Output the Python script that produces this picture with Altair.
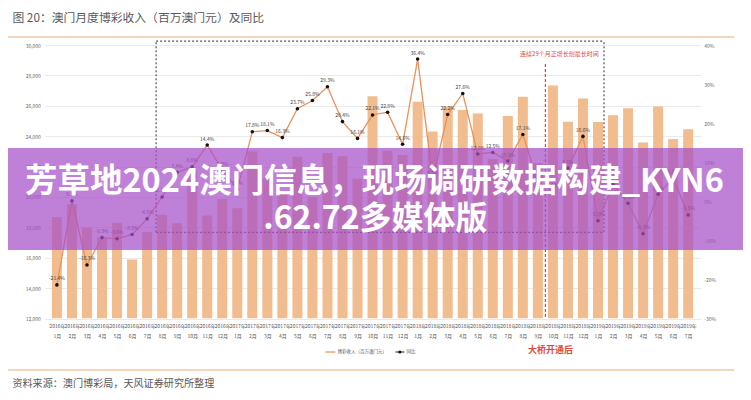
import altair as alt
import pandas as pd

# ---------------- data ----------------
years = ["2016年"] * 12 + ["2017年"] * 12 + ["2018年"] * 12 + ["2019年"] * 7
months = ["1月", "2月", "3月", "4月", "5月", "6月", "7月", "8月", "9月", "10月", "11月", "12月",
          "1月", "2月", "3月", "4月", "5月", "6月", "7月", "8月", "9月", "10月", "11月", "12月",
          "1月", "2月", "3月", "4月", "5月", "6月", "7月", "8月", "9月", "10月", "11月", "12月",
          "1月", "2月", "3月", "4月", "5月", "6月", "7月"]
revenue = [18674, 19521, 17981, 17340, 18302, 15880, 17687, 18836, 18262, 21714, 18771, 19860,
           19255, 23001, 21236, 20171, 22640, 19990, 22885, 22680, 21200, 26620, 23040, 22763,
           26260, 24300, 25960, 25730, 25490, 22490, 25330, 26600, 22240, 27330, 24950, 26480,
           24940, 25370, 25840, 23590, 25950, 23810, 24450]
yoy = [-21.4, 0.1, -16.3, -9.3, -9.6, -8.5, -4.5, 1.1, 7.4, 8.8, 14.4, 8.0,
       3.1, 17.8, 18.1, 16.3, 23.7, 25.8, 29.3, 20.4, 16.1, 22.1, 22.8, 14.6,
       36.4, 5.7, 22.2, 27.6, 12.1, 12.5, 10.3, 17.1, 4.9, 2.6, 8.5, 16.6,
       -5.0, 4.4, -0.5, -8.3, 1.8, 5.9, -3.5]

left_ticks = [12000, 14000, 16000, 18000, 20000, 22000, 24000, 26000, 28000, 30000]
right_ticks = [-30, -20, -10, 0, 10, 20, 30, 40]

TITLE = "图 20：澳门月度博彩收入（百万澳门元）及同比"
SOURCE = "资料来源：澳门博彩局，天风证券研究所整理"
LEG_BAR = "博彩收入（百万澳门元）"
LEG_LINE = "同比"
NOTE_BOX = "连续29个月正增长创最长时间"
NOTE_BRIDGE = "大桥开通后"
BANNER_1 = "芳草地2024澳门信息，现场调研数据构建_KYN6"
BANNER_2 = ".62.72多媒体版"

# annotation anchors (data units: month index / revenue)
box_x = [6.6, 36.4]
box_y = [17670, 30260]
bridge_x = 32.5
bridge_y = [28750, 12000]

N = len(revenue)
df = pd.DataFrame({"idx": list(range(N)), "rev": revenue, "yoy": yoy})
df["yoy_label"] = [f"{v:.1f}%" for v in yoy]

FONT = "Noto Sans CJK SC"
BAR = "#F1BC8E"
LINE = "#E9925B"
RED = "#E0473A"
ORANGE_RULE = "#F2C9A5"

label_pairs = ",".join(f"['{y}','{m}']" for y, m in zip(years, months))

x_axis = alt.Axis(values=list(range(N)), labelExpr=f"[{label_pairs}][datum.value]",
                  labelFontSize=5, labelColor="#555", labelLineHeight=10, labelAngle=0,
                  labelOverlap=False, labelFlush=False, labelBound=False,
                  ticks=False, domain=False, grid=False, labelPadding=5, title=None)
x_scale = alt.Scale(domain=[-0.5, N - 0.5], nice=False, zero=False)


def X(field):
    return alt.X(field, scale=x_scale, axis=x_axis, title=None)


left_axis = alt.Axis(values=left_ticks, labelExpr="format(datum.value, ',.0f')",
                     labelFontSize=5, labelColor="#666",
                     grid=True, gridColor="#EAEAEA", ticks=False, domain=False,
                     labelPadding=4, title=None)
right_axis = alt.Axis(values=right_ticks, labelExpr="datum.value + '%'", orient="right",
                      labelFontSize=5, labelColor="#666", grid=False, ticks=False,
                      domain=False, labelPadding=3, title=None)

y_left = alt.Scale(domain=[12000, 30000], nice=False, zero=False)
y_right = alt.Scale(domain=[-30, 40], nice=False, zero=False)


def YL(field):
    return alt.Y(field, scale=y_left, axis=left_axis, title=None)


def YR(field):
    return alt.Y(field, scale=y_right, axis=right_axis, title=None)


base = alt.Chart(df)
bars = base.mark_bar(size=10, color=BAR, clip=True).encode(
    x=X("idx:Q"), y=YL("rev:Q"), y2=alt.Y2(datum=12000))

box_df = pd.DataFrame({
    "idx": [box_x[0], box_x[0], box_x[0], box_x[1]],
    "x2": [box_x[1], box_x[1], box_x[0], box_x[1]],
    "rev": [box_y[1], box_y[0], box_y[0], box_y[0]],
    "y2": [box_y[1], box_y[0], box_y[1], box_y[1]],
})
box = alt.Chart(box_df).mark_rule(color="#555", strokeDash=[2, 2], strokeWidth=1.2).encode(
    x=X("idx:Q"), x2="x2:Q", y=YL("rev:Q"), y2="y2:Q")

bridge = alt.Chart(pd.DataFrame({"idx": [bridge_x], "rev": [bridge_y[0]], "y2": [bridge_y[1]]})).mark_rule(
    color=RED, strokeDash=[3, 2], strokeWidth=1.2).encode(
    x=X("idx:Q"), y=YL("rev:Q"), y2="y2:Q")

note_box = alt.Chart(pd.DataFrame({"idx": [box_x[1] - 0.35], "rev": [29400], "t": [NOTE_BOX]})).mark_text(
    align="right", baseline="middle", fontSize=6, color=RED, font=FONT).encode(
    x=X("idx:Q"), y=YL("rev:Q"), text="t:N")

left_layer = alt.layer(bars, box, bridge, note_box)

line = base.mark_line(color=LINE, strokeWidth=1.3).encode(x=X("idx:Q"), y=YR("yoy:Q"))
points = base.mark_circle(size=13, color="#111", opacity=1).encode(x=X("idx:Q"), y=YR("yoy:Q"))
labels = base.mark_text(dy=-6.5, fontSize=5, color="#444", font=FONT).encode(
    x=X("idx:Q"), y=YR("yoy:Q"), text="yoy_label:N")

right_layer = alt.layer(line, points, labels)


def one(t):
    return pd.DataFrame({"t": [t]})


title = alt.Chart(one(TITLE)).mark_text(align="left", baseline="middle", fontSize=11.8,
                                        color="#595959", font=FONT).encode(
    text="t:N", x=alt.value(-32), y=alt.value(-27))
rule_top = alt.Chart(one("a")).mark_rule(color=ORANGE_RULE, strokeWidth=1.6).encode(
    x=alt.value(-37), x2=alt.value(690), y=alt.value(-8))
rule_bot = alt.Chart(one("b")).mark_rule(color=ORANGE_RULE, strokeWidth=1.6).encode(
    x=alt.value(-37), x2=alt.value(690), y=alt.value(325))
source = alt.Chart(one(SOURCE)).mark_text(align="left", baseline="middle", fontSize=10.1,
                                          color="#595959", font=FONT).encode(
    text="t:N", x=alt.value(-32), y=alt.value(339))

leg_bar_sw = alt.Chart(one("c")).mark_rule(color=BAR, strokeWidth=2).encode(
    x=alt.value(281), x2=alt.value(291), y=alt.value(307))
leg_bar_t = alt.Chart(one(LEG_BAR)).mark_text(align="left", baseline="middle", fontSize=4.5,
                                              color="#555", font=FONT).encode(
    text="t:N", x=alt.value(293), y=alt.value(307))
leg_line_sw = alt.Chart(one("d")).mark_rule(color="#222", strokeWidth=1).encode(
    x=alt.value(351), x2=alt.value(360), y=alt.value(307))
leg_line_pt = alt.Chart(one("e")).mark_circle(size=10, color="#111", opacity=1).encode(
    x=alt.value(355.5), y=alt.value(307))
leg_line_t = alt.Chart(one(LEG_LINE)).mark_text(align="left", baseline="middle", fontSize=4.5,
                                                color="#555", font=FONT).encode(
    text="t:N", x=alt.value(362), y=alt.value(307))

bridge_t = alt.Chart(one(NOTE_BRIDGE)).mark_text(align="center", baseline="middle", fontSize=9,
                                                 fontWeight="bold", color=RED, font=FONT).encode(
    text="t:N", x=alt.value(506), y=alt.value(305))

banner_rect = alt.Chart(one("f")).mark_rect(color="#A64FC9", opacity=0.72).encode(
    x=alt.value(-45), x2=alt.value(710), y=alt.value(103), y2=alt.value(205))
banner_t1 = alt.Chart(one(BANNER_1)).mark_text(align="center", baseline="middle", fontSize=32.5,
                                               fontWeight="bold", color="white", font=FONT).encode(
    text="t:N", x=alt.value(330), y=alt.value(137))
banner_t2 = alt.Chart(one(BANNER_2)).mark_text(align="center", baseline="middle", fontSize=32,
                                               fontWeight="bold", color="white", font=FONT).encode(
    text="t:N", x=alt.value(331), y=alt.value(174))

chart = alt.layer(
    left_layer, right_layer,
    title, rule_top, rule_bot, source,
    leg_bar_sw, leg_bar_t, leg_line_sw, leg_line_pt, leg_line_t, bridge_t,
    banner_rect, banner_t1, banner_t2,
).resolve_scale(y="independent").properties(
    width=656.3, height=273.5,
    padding={"left": 36.4, "top": 37, "right": 42.3, "bottom": 73.5},
    autosize=alt.AutoSizeParams(type="none"),
).configure(font=FONT).configure_view(stroke=None)

chart.save("out.html", embed_options={"renderer": "svg", "actions": False})
